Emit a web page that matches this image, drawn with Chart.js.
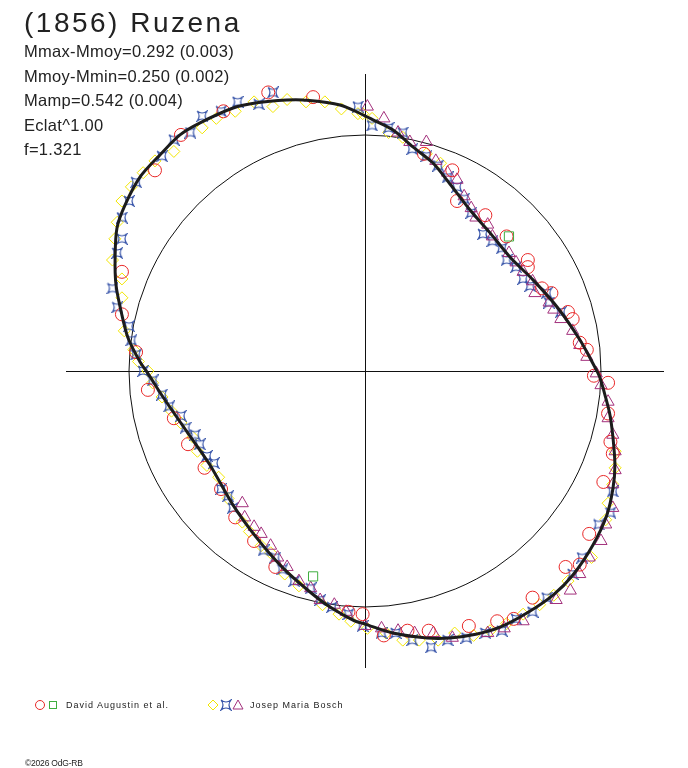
<!DOCTYPE html>
<html>
<head>
<meta charset="utf-8">
<title>(1856) Ruzena</title>
<script src="https://cdn.jsdelivr.net/npm/chart.js@4"></script>
<style>
  body { margin: 0; background: #fff; }
  #wrap { position: relative; width: 688px; height: 768px; }
  .t { position: absolute; font-family: "Liberation Sans", Arial, sans-serif; color: #222; line-height: 1; white-space: nowrap; }
  .s { font-size: 16.5px; letter-spacing: 0.3px; left: 24px; }
  .lg { font-size: 9px; letter-spacing: 1px; top: 701px; }
</style>
</head>
<body>
<div id="wrap">
  <canvas id="myChart" width="688" height="768"></canvas>
  <div class="t" style="left:24px;top:9px;font-size:28px;letter-spacing:2.5px">(1856) Ruzena</div>
  <div class="t s" style="top:43px">Mmax-Mmoy=0.292 (0.003)</div>
  <div class="t s" style="top:68px">Mmoy-Mmin=0.250 (0.002)</div>
  <div class="t s" style="top:92px">Mamp=0.542 (0.004)</div>
  <div class="t s" style="top:117px">Eclat^1.00</div>
  <div class="t s" style="top:141px">f=1.321</div>
  <div class="t lg" style="left:66px">David Augustin et al.</div>
  <div class="t lg" style="left:250px">Josep Maria Bosch</div>
  <div class="t" style="left:25px;top:759px;font-size:8.5px;letter-spacing:-0.2px">©2026 OdG-RB</div>
</div>
<script>
// fitted curve (unit = radius of reference circle)
var curveX = [0.983, 0.911, 0.814, 0.712, 0.614, 0.530, 0.445, 0.360, 0.288, 0.203, 0.119, 0.034, 0.000,
  -0.106, -0.263, -0.331, -0.458, -0.559, -0.699, -0.784, -0.869, -0.953, -1.017, -1.051, -1.059, -1.055,
  -1.030, -1.004, -0.953, -0.924, -0.856, -0.754, -0.657, -0.559, -0.458, -0.347, -0.233, -0.148, -0.051,
  0.000, 0.119, 0.263, 0.360, 0.475, 0.572, 0.686, 0.797, 0.881, 0.966, 1.025, 1.051, 1.059, 1.051, 1.038,
  1.017, 0.996, 0.983];
var curveY = [0.000, 0.131, 0.271, 0.386, 0.483, 0.585, 0.682, 0.792, 0.881, 0.949, 1.021, 1.064, 1.081,
  1.127, 1.148, 1.148, 1.136, 1.114, 1.051, 1.000, 0.915, 0.822, 0.703, 0.606, 0.479, 0.364,
  0.237, 0.140, 0.038, -0.004, -0.110, -0.258, -0.398, -0.568, -0.708, -0.835, -0.936, -1.000, -1.055,
  -1.072, -1.110, -1.131, -1.131, -1.114, -1.085, -1.025, -0.949, -0.864, -0.737, -0.610, -0.496, -0.398, -0.284, -0.186,
  -0.102, -0.030, 0.000];

// David Augustin et al.
var augCircX = [-0.41, -0.22, -0.60, -0.78, -0.89, -1.03, -1.03, -0.97, -0.92, -0.81, -0.75, -0.68, -0.61, -0.55,
  -0.47, -0.38, -0.07, -0.01, 0.08, 0.18, 0.27, 0.44, 0.56, 0.63, 0.71, 0.85, 0.91, 0.95, 1.01, 1.05, 1.04,
  1.03, 1.03, 0.97, 0.94, 0.91, 0.88, 0.86, 0.79, 0.75, 0.69, 0.69, 0.60, 0.51, 0.39, 0.37, 0.25];
var augCircY = [1.18, 1.16, 1.10, 1.00, 0.85, 0.42, 0.24, 0.08, -0.08, -0.20, -0.31, -0.41, -0.50, -0.62,
  -0.72, -0.83, -1.02, -1.03, -1.12, -1.10, -1.10, -1.08, -1.06, -1.05, -0.96, -0.83, -0.82, -0.69, -0.47, -0.35, -0.30,
  -0.18, -0.05, -0.02, 0.09, 0.12, 0.22, 0.25, 0.33, 0.35, 0.44, 0.47, 0.57, 0.66, 0.72, 0.85, 0.92];
var augSqX = [0.61, -0.22];
var augSqY = [0.57, -0.87];

// Josep Maria Bosch
var boschDiaX = [-0.01, -0.03, -0.10, -0.17, -0.25, -0.33, -0.39, -0.47, -0.55, -0.63, -0.69, -0.81, -0.89, -0.94,
  -0.99, -1.03, -1.05, -1.06, -1.07, -1.03, -1.03, -1.02, -0.98, -0.96, -0.92, -0.90, -0.86, -0.82, -0.78, -0.73,
  -0.71, -0.67, -0.62, -0.58, -0.52, -0.49, -0.44, -0.40, -0.34, -0.28, -0.18, -0.11, -0.06, 0.01, 0.09, 0.16,
  0.23, 0.31, 0.38, 0.46, 0.53, 0.60, 0.67, 0.74, 0.80, 0.86, 0.96, 1.02, 1.03, 1.05, 1.06, 1.06, 0.03, 0.10,
  0.16, 0.26, 0.32];
var boschDiaY = [1.09, 1.09, 1.11, 1.14, 1.14, 1.15, 1.12, 1.14, 1.10, 1.07, 1.03, 0.93, 0.89, 0.84,
  0.78, 0.72, 0.63, 0.56, 0.47, 0.39, 0.31, 0.17, 0.09, 0.04, 0.00, -0.05, -0.11, -0.17, -0.22, -0.28,
  -0.34, -0.40, -0.45, -0.54, -0.64, -0.68, -0.74, -0.77, -0.86, -0.91, -0.99, -1.03, -1.06, -1.09, -1.11, -1.14,
  -1.14, -1.14, -1.11, -1.12, -1.10, -1.07, -1.03, -0.99, -0.95, -0.89, -0.79, -0.63, -0.56, -0.48, -0.41, -0.34, 1.07, 1.01,
  0.99, 0.92, 0.88];
var boschStarX = [-0.39, -0.54, -0.45, -0.03, -0.61, -0.69, -0.74, -0.81, -0.86, -0.97, -1.00, -1.03, -1.03, -1.05,
  -1.07, -1.05, -1.00, -0.99, -0.97, -0.94, -0.90, -0.86, -0.83, -0.78, -0.76, -0.72, -0.70, -0.67, -0.64, -0.61,
  -0.58, -0.56, -0.43, -0.38, -0.35, -0.30, -0.23, -0.19, -0.14, -0.07, -0.01, 0.07, 0.13, 0.20, 0.28, 0.35,
  0.43, 0.51, 0.58, 0.64, 0.71, 0.77, 0.88, 0.92, 0.99, 1.04, 1.05, 0.03, 0.10, 0.16, 0.20, 0.26, 0.31, 0.35,
  0.39, 0.42, 0.45, 0.50, 0.54, 0.58, 0.60, 0.64, 0.67, 0.70, 0.77, 0.78, 0.83];
var boschStarY = [1.18, 1.14, 1.13, 1.12, 1.10, 1.08, 1.01, 0.98, 0.91, 0.80, 0.72, 0.65, 0.56, 0.50,
  0.35, 0.27, 0.19, 0.13, 0.07, 0.00, -0.04, -0.10, -0.15, -0.19, -0.24, -0.27, -0.31, -0.36, -0.39, -0.50,
  -0.53, -0.58, -0.76, -0.79, -0.84, -0.89, -0.92, -0.97, -1.00, -1.03, -1.08, -1.11, -1.11, -1.14, -1.17, -1.14,
  -1.13, -1.11, -1.10, -1.05, -1.02, -0.96, -0.86, -0.79, -0.65, -0.60, -0.51, 1.04, 1.03, 1.01, 0.94, 0.91, 0.87, 0.82,
  0.78, 0.73, 0.67, 0.58, 0.55, 0.52, 0.47, 0.44, 0.39, 0.36, 0.33, 0.29, 0.25];
var boschTriX = [0.01, 0.08, 0.14, 0.19, 0.26, 0.30, 0.35, 0.39, 0.42, 0.45, 0.47, 0.52, 0.54, 0.61, 0.64, 0.67,
  0.71, 0.72, 0.78, 0.80, 0.83, 0.88, 0.91, 0.94, 0.98, 1.00, 1.03, 1.03, 1.05, 1.06, 1.06, 1.05, 1.05, 1.02,
  1.00, 0.95, 0.91, 0.87, 0.81, 0.67, 0.59, 0.52, 0.37, 0.29, 0.21, 0.14, 0.07, 0.00, -0.08, -0.13, -0.19,
  -0.23, -0.28, -0.33, -0.37, -0.40, -0.44, -0.47, -0.51, -0.52];
var boschTriY = [1.12, 1.07, 1.01, 0.97, 0.97, 0.89, 0.84, 0.81, 0.74, 0.69, 0.65, 0.62, 0.57, 0.50, 0.46, 0.42,
  0.38, 0.33, 0.29, 0.26, 0.22, 0.17, 0.11, 0.06, -0.01, -0.06, -0.13, -0.20, -0.27, -0.34, -0.42, -0.48, -0.58, -0.65,
  -0.72, -0.79, -0.86, -0.93, -0.97, -1.06, -1.09, -1.11, -1.13, -1.11, -1.11, -1.10, -1.09, -1.08, -1.02, -0.99, -0.97,
  -0.92, -0.89, -0.83, -0.79, -0.74, -0.69, -0.66, -0.62, -0.56];

function pts(xs, ys) {
  return xs.map(function (x, i) { return { x: x, y: ys[i] }; });
}

function starImage(color) {
  var c = document.createElement('canvas');
  c.width = 12; c.height = 12;
  var g = c.getContext('2d');
  g.strokeStyle = color;
  g.lineWidth = 1.2;
  g.beginPath();
  g.moveTo(1, 1);
  g.quadraticCurveTo(6, 5, 11, 1);
  g.quadraticCurveTo(7, 6, 11, 11);
  g.quadraticCurveTo(6, 7, 1, 11);
  g.quadraticCurveTo(5, 6, 1, 1);
  g.stroke();
  return c;
}

var RED = '#e82828', GREEN = '#3fae3f', YELLOW = '#f2e600', BLUE = '#3552a8', MAGENTA = '#a3307c';
var star = starImage(BLUE);

// axes + reference circle under the points
var frame = {
  id: 'frame',
  beforeDatasetsDraw: function (chart) {
    var ctx = chart.ctx, xs = chart.scales.x, ys = chart.scales.y, a = chart.chartArea;
    var cx = xs.getPixelForValue(0), cy = ys.getPixelForValue(0);
    var r = xs.getPixelForValue(1) - cx;
    ctx.save();
    ctx.strokeStyle = '#111';
    ctx.lineWidth = 1;
    ctx.beginPath();
    ctx.moveTo(a.left, Math.round(cy) + 0.5); ctx.lineTo(a.right, Math.round(cy) + 0.5);
    ctx.moveTo(Math.round(cx) + 0.5, a.top); ctx.lineTo(Math.round(cx) + 0.5, a.bottom);
    ctx.stroke();
    ctx.beginPath();
    ctx.arc(cx, cy, r, 0, Math.PI * 2);
    ctx.stroke();
    ctx.restore();
  },
  afterDraw: function (chart) {
    // legend symbols
    var ctx = chart.ctx;
    ctx.save();
    ctx.lineWidth = 1;
    ctx.strokeStyle = RED;
    ctx.beginPath(); ctx.arc(40, 705, 4.5, 0, Math.PI * 2); ctx.stroke();
    ctx.strokeStyle = GREEN;
    ctx.strokeRect(49.5, 701.5, 7, 7);
    ctx.strokeStyle = YELLOW;
    ctx.beginPath(); ctx.moveTo(213, 700); ctx.lineTo(218, 705); ctx.lineTo(213, 710); ctx.lineTo(208, 705); ctx.closePath(); ctx.stroke();
    ctx.drawImage(star, 220, 699, 12, 12);
    ctx.strokeStyle = MAGENTA;
    ctx.beginPath(); ctx.moveTo(238, 700); ctx.lineTo(243, 709); ctx.lineTo(233, 709); ctx.closePath(); ctx.stroke();
    ctx.restore();
  }
};

new Chart(document.getElementById('myChart'), {
  type: 'scatter',
  data: {
    datasets: [
      {
        type: 'line',
        data: pts(curveX, curveY),
        borderColor: '#1c1c1c',
        borderWidth: 3,
        pointRadius: 0,
        tension: 0.3,
        fill: false,
        order: 0
      },
      { data: pts(augCircX, augCircY), pointStyle: 'circle', pointRadius: 6.5, borderColor: RED, backgroundColor: 'transparent', borderWidth: 1, order: 2 },
      { data: pts(augSqX, augSqY), pointStyle: 'rect', pointRadius: 6.5, borderColor: GREEN, backgroundColor: 'transparent', borderWidth: 1, order: 1 },
      { data: pts(boschDiaX, boschDiaY), pointStyle: 'rectRot', pointRadius: 6, borderColor: YELLOW, backgroundColor: 'transparent', borderWidth: 1, order: 5 },
      { data: pts(boschStarX, boschStarY), pointStyle: star, pointRadius: 6, borderColor: BLUE, backgroundColor: 'transparent', order: 4 },
      { data: pts(boschTriX, boschTriY), pointStyle: 'triangle', pointRadius: 7, borderColor: MAGENTA, backgroundColor: 'transparent', borderWidth: 1, order: 3 }
    ]
  },
  options: {
    responsive: false,
    animation: false,
    devicePixelRatio: 1,
    layout: { padding: { left: 66, right: 24, top: 74, bottom: 100 } },
    scales: {
      x: { type: 'linear', min: -1.267, max: 1.267, display: false },
      y: { type: 'linear', min: -1.258, max: 1.258, display: false }
    },
    plugins: { legend: { display: false }, tooltip: { enabled: false } }
  },
  plugins: [frame]
});
</script>
</body>
</html>
